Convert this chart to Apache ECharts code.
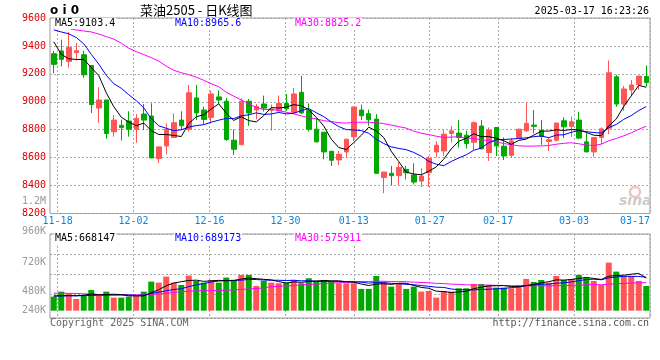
<!DOCTYPE html>
<html><head><meta charset="utf-8">
<script src="https://cdn.jsdelivr.net/npm/echarts@6/dist/echarts.min.js"></script>
<style>html,body{margin:0;padding:0;background:#fff}#c{width:660px;height:360px}</style>
</head><body><div id="c"></div>
<script>
// ---------------- data ----------------
const dates = ['11-15','11-18','11-19','11-20','11-21','11-22','11-25','11-26','11-27','11-28','11-29',
 '12-02','12-03','12-04','12-05','12-06','12-09','12-10','12-11','12-12','12-13',
 '12-16','12-17','12-18','12-19','12-20','12-23','12-24','12-25','12-26','12-27','12-30','12-31',
 '01-02','01-03','01-06','01-07','01-08','01-09','01-10','01-13','01-14','01-15','01-16','01-17',
 '01-20','01-21','01-22','01-23','01-24','01-27',
 '02-05','02-06','02-07','02-10','02-11','02-12','02-13','02-14','02-17','02-18','02-19','02-20','02-21',
 '02-24','02-25','02-26','02-27','02-28',
 '03-03','03-04','03-05','03-06','03-07','03-10','03-11','03-12','03-13','03-14','03-17'];
const opens  = [9344,9364,9289,9352,9337,9260,8955,9013,8785,8831,8862,8804,8912,8898,8593,8684,8744,8869,8804,9028,
 8941,8888,9035,9004,8725,8692,9004,8941,8984,8940,8935,8988,8924,9068,8936,8804,8782,8646,8584,8641,
 8749,8941,8915,8876,8458,8488,8471,8516,8476,8432,8492,8641,8648,8773,8776,8761,8711,8826,8636,8816,
 8682,8617,8740,8792,8833,8795,8716,8725,8864,8824,8869,8713,8641,8744,8811,9179,8984,9085,9124,9181];
const closes = [9268,9304,9388,9366,9193,8980,9013,8773,8869,8815,8804,8881,8869,8598,8677,8802,8850,8828,9064,8920,
 8874,9056,9013,8730,8660,9004,8920,8965,8955,8948,8988,8950,9056,8920,8804,8713,8641,8581,8624,8732,
 8963,8900,8872,8488,8497,8471,8531,8492,8425,8468,8596,8689,8768,8792,8744,8701,8850,8663,8797,8684,
 8612,8720,8804,8845,8824,8752,8728,8848,8821,8857,8740,8641,8744,8806,9208,8984,9092,9121,9184,9138];
const lows   = [9205,9253,9245,9296,9172,8920,8848,8735,8750,8723,8750,8706,8797,8598,8562,8624,8740,8797,8788,8869,
 8840,8845,8984,8720,8620,8692,8828,8874,8930,8795,8930,8935,8912,8912,8788,8708,8588,8540,8548,8605,
 8720,8869,8828,8484,8346,8404,8404,8444,8408,8390,8390,8605,8612,8708,8672,8665,8653,8660,8576,8612,
 8583,8600,8735,8785,8773,8692,8648,8716,8740,8749,8732,8641,8605,8696,8768,8965,8936,9042,9085,9109];
const highs  = [9364,9445,9500,9421,9365,9262,9104,9013,8905,8872,8932,8912,8984,8989,8677,8845,8917,8932,9121,9121,
 8965,9080,9080,9028,8802,9025,9020,8984,9044,8980,9045,9055,9100,9186,8989,8881,8782,8646,8648,8735,
 8963,8980,8944,8912,8497,8540,8565,8540,8560,8524,8612,8718,8797,8826,8869,8792,8860,8869,8816,8816,
 8745,8740,8804,8996,8941,8869,8740,8848,8888,8893,8929,8780,8744,8816,9296,9193,9114,9157,9184,9260];
const volumes = [287000,390000,357000,240000,301000,424000,301000,390000,267000,267000,287000,301000,390000,595000,574000,697000,574000,527000,718000,609000,
 574000,629000,574000,677000,629000,732000,732000,506000,609000,574000,562000,574000,629000,562000,664000,609000,629000,595000,562000,562000,
 562000,445000,445000,711000,595000,492000,562000,445000,492000,390000,404000,267000,404000,390000,458000,458000,547000,547000,527000,472000,
 472000,458000,527000,650000,588000,629000,574000,711000,629000,650000,732000,677000,609000,527000,984000,800000,711000,711000,609000,506000];
// moving-average values before a full window exists
const ma5Head  = [9430,9340,9308,9303];
const ma10Head = [9515,9500,9487,9460,9415,9340,9270,9190,9130];
const ma30Head = [9532,9528,9525,9514,9507,9500,9485,9467,9449,9420,9384,9359,9338,9316,9291,9255,9226,9208,9194,9176,
 9154,9129,9108,9068,9040,9013,8985,8960,8945];
const volMa5Head  = [300000,305000,310000,305000];
const volMa10Head = [300000,302000,305000,305000,308000,312000,315000,318000,320000];
const volMa30Head = [357000,356000,355000,352000,345000,338000,332000,328000,325000,324000,323000,323000,325000,332000,345000,
 360000,375000,388000,400000,405000,410000,412000,416000,420000,425000,435000,445000,455000,465000];
const tickLabels = ['11-18','12-02','12-16','12-30','01-13','01-27','02-17','03-03','03-17'];
const priceMin = 8200, priceMax = 9600, priceStep = 200;
const volAxisLabels = ['1.2M','960K','720K','480K','240K'];
const maTexts = ['MA5:9103.4','MA10:8965.6','MA30:8825.2'];
const volMaTexts = ['MA5:668147','MA10:689173','MA30:575911'];
const titleText = '菜油2505 - 日K线图';
const timeText = '2025-03-17 16:23:26';

// ---------------- build ----------------
function movingAvg(vals, n, head) {
  return vals.map((v, i) => {
    if (i < n - 1) return head[i];
    let s = 0; for (let k = i - n + 1; k <= i; k++) s += vals[k];
    return +(s / n).toFixed(1);
  });
}
const UP = '#ff5555', DOWN = '#00a800';
const MONO = 'DejaVu Sans Mono';
const candleData = dates.map((d, i) => [opens[i], closes[i], lows[i], highs[i]]);
const volData = volumes.map((v, i) => ({value: v, itemStyle: {color: closes[i] > opens[i] ? UP : DOWN}}));
const isTick = (idx, val) => tickLabels.indexOf(val) >= 0;
const dotted = {color: '#aaaaaa', width: 1, type: [2, 2]};

function lineSeries(data, color, xi, yi) {
  return {type: 'line', data: data, xAxisIndex: xi, yAxisIndex: yi, showSymbol: false, symbol: 'none',
    silent: true, lineStyle: {color: color, width: 1}, z: 5};
}
function txt(text, x, y, color, font, align, bg) {
  const st = {text: text, x: x, y: y, fill: color, font: font, align: align || 'left', textAlign: align || 'left',
    verticalAlign: 'middle', textVerticalAlign: 'middle'};
  if (bg) { st.backgroundColor = bg; st.padding = [1, 1, 0, 1]; }
  return {type: 'text', z: 100, silent: true, style: st};
}

const chart = echarts.init(document.getElementById('c'));
chart.setOption({
  animation: false,
  backgroundColor: '#fff',
  grid: [
    {left: 50, right: 10, top: 18, height: 195.5, show: true, borderColor: '#999', borderWidth: 1, backgroundColor: 'transparent'},
    {left: 50, right: 10, top: 234, height: 84, show: true, borderColor: '#999', borderWidth: 1, backgroundColor: 'transparent'}
  ],
  xAxis: [
    {type: 'category', gridIndex: 0, data: dates, boundaryGap: true, show: false, position: 'top'},
    {type: 'category', gridIndex: 0, data: dates, boundaryGap: false, position: 'bottom',
      axisLine: {show: false}, axisTick: {show: false},
      axisLabel: {interval: isTick, color: '#0a84e0', fontFamily: MONO, fontSize: 10, margin: 3, alignMaxLabel: 'right'},
      splitLine: {show: true, interval: isTick, lineStyle: dotted}},
    {type: 'category', gridIndex: 1, data: dates, boundaryGap: true, show: false, position: 'top'},
    {type: 'category', gridIndex: 1, data: dates, boundaryGap: false, position: 'bottom',
      axisLine: {show: false}, axisTick: {show: false}, axisLabel: {show: false},
      splitLine: {show: true, interval: isTick, lineStyle: dotted}}
  ],
  yAxis: [
    {type: 'value', gridIndex: 0, min: priceMin, max: priceMax, interval: priceStep, position: 'left',
      axisLine: {show: false}, axisTick: {show: false},
      axisLabel: {color: '#e00000', fontFamily: MONO, fontSize: 10, margin: 4, formatter: v => String(v)},
      splitLine: {show: true, lineStyle: dotted}},
    {type: 'value', gridIndex: 1, min: -150000, max: 1570000, show: false},
    {type: 'value', gridIndex: 1, min: 0, max: 84, interval: 20, inverse: true, position: 'right',
      axisLine: {show: false}, axisTick: {show: false}, axisLabel: {show: false},
      splitLine: {show: true, lineStyle: {color: ['#aaaaaa', '#aaaaaa', '#aaaaaa', '#aaaaaa', 'rgba(0,0,0,0)', '#999'], width: 1, type: [2, 2]}}}
  ],
  series: [
    {type: 'candlestick', xAxisIndex: 0, yAxisIndex: 0, data: candleData, barWidth: 5, silent: true,
      itemStyle: {color: UP, color0: DOWN, borderColor: UP, borderColor0: DOWN, borderWidth: 1}},
    lineSeries(movingAvg(closes, 30, ma30Head), '#ff00ff', 0, 0),
    lineSeries(movingAvg(closes, 10, ma10Head), '#0000ff', 0, 0),
    lineSeries(movingAvg(closes, 5, ma5Head), '#000000', 0, 0),
    {type: 'bar', xAxisIndex: 2, yAxisIndex: 1, data: volData, barWidth: 6, silent: true},
    lineSeries(movingAvg(volumes, 30, volMa30Head), '#ff00ff', 2, 1),
    lineSeries(movingAvg(volumes, 10, volMa10Head), '#0000ff', 2, 1),
    lineSeries(movingAvg(volumes, 5, volMa5Head), '#000000', 2, 1)
  ],
  graphic: [
    txt('o i 0', 50, 11, '#000', 'bold 12px "DejaVu Sans"'),
    txt(titleText, 140, 10, '#000', '13px "Noto Sans CJK SC"'),
    txt(timeText, 649, 11.5, '#000', '10px "DejaVu Sans Mono"', 'right'),
    txt(maTexts[0], 54, 23.5, '#000', '10px "DejaVu Sans Mono"', 'left', '#fff'),
    txt(maTexts[1], 174, 23.5, '#0000ff', '10px "DejaVu Sans Mono"', 'left', '#fff'),
    txt(maTexts[2], 294, 23.5, '#ff00ff', '10px "DejaVu Sans Mono"', 'left', '#fff'),
    txt(volMaTexts[0], 54, 238.5, '#000', '10px "DejaVu Sans Mono"', 'left', '#fff'),
    txt(volMaTexts[1], 174, 238.5, '#0000ff', '10px "DejaVu Sans Mono"', 'left', '#fff'),
    txt(volMaTexts[2], 294, 238.5, '#ff00ff', '10px "DejaVu Sans Mono"', 'left', '#fff'),
    txt(volAxisLabels[0], 46, 201, '#999', '10px "DejaVu Sans Mono"', 'right'),
    txt(volAxisLabels[1], 46, 231, '#999', '10px "DejaVu Sans Mono"', 'right'),
    txt(volAxisLabels[2], 46, 262, '#999', '10px "DejaVu Sans Mono"', 'right'),
    txt(volAxisLabels[3], 46, 291, '#999', '10px "DejaVu Sans Mono"', 'right'),
    txt(volAxisLabels[4], 46, 310, '#999', '10px "DejaVu Sans Mono"', 'right'),
    txt('Copyright 2025 SINA.COM', 50, 323, '#666', '10px "DejaVu Sans Mono"'),
    txt('http://finance.sina.com.cn', 649, 323, '#555', '10px "DejaVu Sans Mono"', 'right'),
    {type: 'circle', z: 1, silent: true, shape: {cx: 635, cy: 192, r: 5}, style: {fill: 'none', stroke: '#f4c4c4', lineWidth: 2.5}},
    txt('sina', 619, 201, '#cccccc', 'italic bold 14px "DejaVu Sans"')
  ]
});
</script>
</body></html>
